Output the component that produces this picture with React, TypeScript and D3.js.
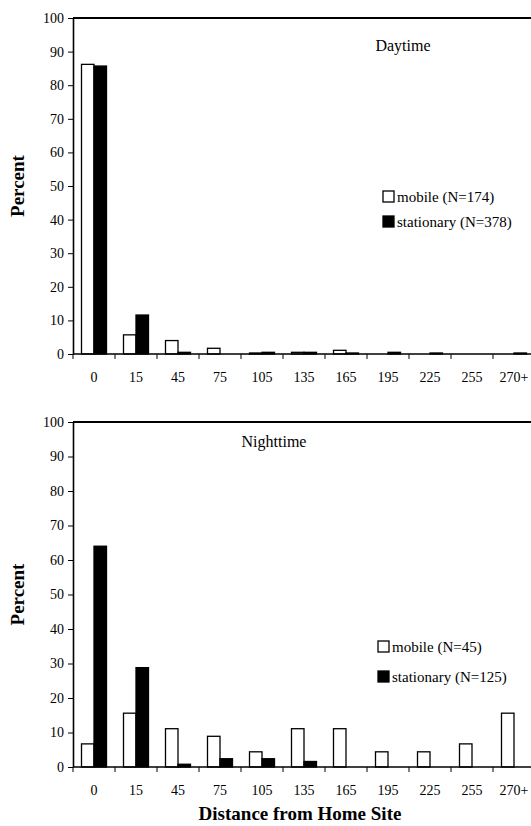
import React, { useEffect, useRef } from "react";
import * as d3 from "d3";

const categories = ["0", "15", "45", "75", "105", "135", "165", "195", "225", "255", "270+"];
const seriesKeys = ["mobile", "stationary"];

// daytime percents
const dayMobile = [86.2, 5.7, 4.0, 1.7, 0.3, 0.5, 1.1, 0, 0, 0, 0];
const dayStationary = [85.7, 11.6, 0.5, 0, 0.5, 0.5, 0.3, 0.5, 0.3, 0, 0.3];

// nighttime percents
const nightMobile = [6.7, 15.6, 11.1, 8.9, 4.4, 11.1, 11.1, 4.4, 4.4, 6.7, 15.6];
const nightStationary = [64.0, 28.8, 0.8, 2.4, 2.4, 1.6, 0, 0, 0, 0, 0];

const yTicks = [0, 10, 20, 30, 40, 50, 60, 70, 80, 90, 100];

const dayLegend = ["mobile (N=174)", "stationary (N=378)"];
const nightLegend = ["mobile (N=45)", "stationary (N=125)"];

const FONT = "'Liberation Serif', 'Times New Roman', serif";

type PanelOpts = {
  top: number;
  bottom: number;
  title: string;
  titleX: number;
  titleY: number;
  mobile: number[];
  stationary: number[];
  legend: string[];
  legendX: number;
  legendY: number;
  legendGap: number;
  xTitle?: string;
};

function drawPanel(svg: d3.Selection<SVGSVGElement, unknown, null, undefined>, o: PanelOpts) {
  const left = 73;
  const right = 535;

  const x = d3.scaleBand().domain(categories).range([left, right]).paddingInner(0).paddingOuter(0);
  const xs = d3.scaleBand().domain(seriesKeys).range([0, x.bandwidth()]).paddingInner(0).paddingOuter(0.68);
  const y = d3.scaleLinear().domain([0, 100]).range([o.bottom, o.top]);

  const g = svg.append("g");

  // bars
  const rows = categories.map((c, i) => ({ c, mobile: o.mobile[i], stationary: o.stationary[i] }));
  seriesKeys.forEach((k) => {
    g.selectAll(null)
      .data(rows.filter((r: any) => r[k] > 0))
      .enter()
      .append("rect")
      .attr("x", (d: any) => (x(d.c) as number) + (xs(k) as number))
      .attr("y", (d: any) => y(d[k]))
      .attr("width", xs.bandwidth())
      .attr("height", (d: any) => y(0) - y(d[k]))
      .attr("fill", k === "mobile" ? "#fff" : "#000")
      .attr("stroke", "#000")
      .attr("stroke-width", 1.3);
  });

  // y axis
  const yAxis = d3.axisLeft(y).tickValues(yTicks).tickSize(5).tickPadding(4).tickSizeOuter(0);
  const ya = g.append("g").attr("transform", `translate(${left},0)`).call(yAxis);
  ya.select(".domain").attr("stroke-width", 1.6);
  ya.selectAll("text").attr("font-family", FONT).attr("font-size", 14).attr("fill", "#000");

  // x axis: ticks at band boundaries
  const xAxisG = g.append("g");
  xAxisG
    .append("line")
    .attr("x1", left)
    .attr("x2", right)
    .attr("y1", y(0))
    .attr("y2", y(0))
    .attr("stroke", "#000")
    .attr("stroke-width", 1.6);
  xAxisG
    .selectAll(null)
    .data(categories)
    .enter()
    .append("line")
    .attr("x1", (d) => x(d) as number)
    .attr("x2", (d) => x(d) as number)
    .attr("y1", y(0))
    .attr("y2", y(0) + 5)
    .attr("stroke", "#000")
    .attr("stroke-width", 1);
  xAxisG
    .selectAll(null)
    .data(categories)
    .enter()
    .append("text")
    .attr("x", (d) => (x(d) as number) + x.bandwidth() / 2)
    .attr("y", y(0) + 28)
    .attr("text-anchor", "middle")
    .attr("font-family", FONT)
    .attr("font-size", 14)
    .text((d) => d);

  // top border
  g.append("line")
    .attr("x1", left)
    .attr("x2", right)
    .attr("y1", y(100))
    .attr("y2", y(100))
    .attr("stroke", "#000")
    .attr("stroke-width", 2);

  // y label
  g.append("text")
    .attr("transform", `translate(24,${(o.top + o.bottom) / 2}) rotate(-90)`)
    .attr("text-anchor", "middle")
    .attr("font-family", FONT)
    .attr("font-size", 19)
    .attr("font-weight", "bold")
    .text("Percent");

  // panel title
  g.append("text")
    .attr("x", o.titleX)
    .attr("y", o.titleY)
    .attr("text-anchor", "middle")
    .attr("font-family", FONT)
    .attr("font-size", 16)
    .text(o.title);

  // legend
  o.legend.forEach((label, i) => {
    const ly = o.legendY + i * o.legendGap;
    g.append("rect")
      .attr("x", o.legendX)
      .attr("y", ly - 6)
      .attr("width", 11)
      .attr("height", 11)
      .attr("fill", i === 0 ? "#fff" : "#000")
      .attr("stroke", "#000")
      .attr("stroke-width", 1.3);
    g.append("text")
      .attr("x", o.legendX + 14)
      .attr("y", ly + 5)
      .attr("font-family", FONT)
      .attr("font-size", 15)
      .text(label);
  });

  if (o.xTitle) {
    g.append("text")
      .attr("x", 300)
      .attr("y", o.bottom + 53)
      .attr("text-anchor", "middle")
      .attr("font-family", FONT)
      .attr("font-size", 19)
      .attr("font-weight", "bold")
      .text(o.xTitle);
  }
}

export default function App() {
  const ref = useRef<SVGSVGElement | null>(null);

  useEffect(() => {
    const svg = d3.select(ref.current as SVGSVGElement);
    svg.selectAll("*").remove();
    drawPanel(svg, {
      top: 18,
      bottom: 354,
      title: "Daytime",
      titleX: 403,
      titleY: 51,
      mobile: dayMobile,
      stationary: dayStationary,
      legend: dayLegend,
      legendX: 383,
      legendY: 197,
      legendGap: 25,
    });
    drawPanel(svg, {
      top: 422,
      bottom: 767,
      title: "Nighttime",
      titleX: 274,
      titleY: 447,
      mobile: nightMobile,
      stationary: nightStationary,
      legend: nightLegend,
      legendX: 378,
      legendY: 647,
      legendGap: 30,
      xTitle: "Distance from Home Site",
    });
  }, []);

  return (
    <div style={{ position: "absolute", left: 0, top: 0 }}>
      <svg ref={ref} width={531} height={826} style={{ display: "block", background: "#fff" }} />
    </div>
  );
}
